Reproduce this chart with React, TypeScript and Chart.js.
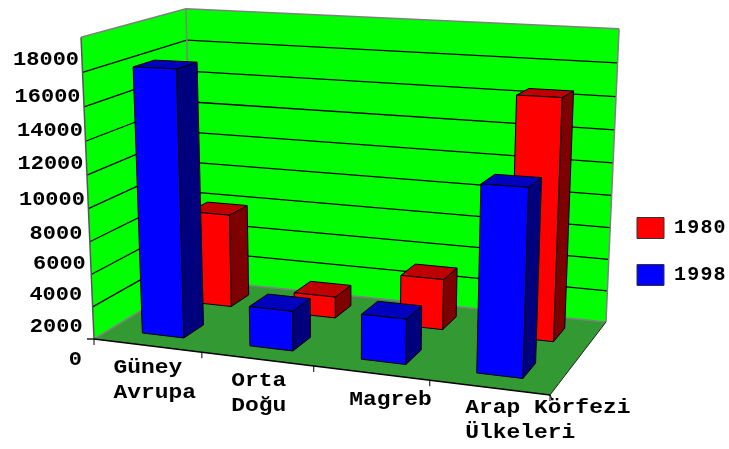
import React, { useEffect, useRef } from "react";
import { Chart, registerables } from "chart.js";

Chart.register(...registerables);

const categories = [["Güney", "Avrupa"], ["Orta", "Doğu"], ["Magreb"], ["Arap Körfezi", "Ülkeleri"]];
const seriesNames = ["1980", "1998"];
const values1980 = [5950, 1340, 3140, 14500];
const values1998 = [16100, 2400, 2670, 10680];
const yMax = 18000;
const yStep = 2000;

const FONT = 'bold 20px "Liberation Mono"';
type Pt = [number, number];

function quad(p0: Pt, p1: Pt, p2: Pt, p3: Pt) {
  const dx1 = p1[0] - p2[0], dx2 = p3[0] - p2[0], sx = p0[0] - p1[0] + p2[0] - p3[0];
  const dy1 = p1[1] - p2[1], dy2 = p3[1] - p2[1], sy = p0[1] - p1[1] + p2[1] - p3[1];
  const det = dx1 * dy2 - dx2 * dy1;
  const g = (sx * dy2 - dx2 * sy) / det;
  const h = (dx1 * sy - sx * dy1) / det;
  return {
    a: p1[0] - p0[0] + g * p1[0], b: p3[0] - p0[0] + h * p3[0], c: p0[0],
    d: p1[1] - p0[1] + g * p1[1], e: p3[1] - p0[1] + h * p3[1], f: p0[1], g, h,
  };
}

// The viewing projection of the 3D box: floor corners plus vertical terms.
const F = quad([94, 339], [550, 395], [606, 322], [193, 279.5]);
const VX = -16.9, VY = -303.5, VK = -0.0485, TWIST = 8, WARP = 0.05;

function project(uIn: number, v: number, w: number): Pt {
  const u = uIn + WARP * uIn * (1 - uIn);
  const k = F.g * u + F.h * v + 1 + VK * w;
  return [
    (F.a * u + F.b * v + F.c + VX * w) / k,
    (F.d * u + F.e * v + F.f + VY * w) / k + TWIST * u * v * w,
  ];
}

function poly(ctx: CanvasRenderingContext2D, pts: Pt[], fill: string | null, stroke: string | null, lw = 1) {
  ctx.beginPath();
  pts.forEach((p, i) => (i ? ctx.lineTo(p[0], p[1]) : ctx.moveTo(p[0], p[1])));
  ctx.closePath();
  if (fill) { ctx.fillStyle = fill; ctx.fill(); }
  if (stroke) { ctx.strokeStyle = stroke; ctx.lineWidth = lw; ctx.stroke(); }
}
function seg(ctx: CanvasRenderingContext2D, a: Pt, b: Pt, color: string, lw: number) {
  ctx.beginPath(); ctx.moveTo(a[0], a[1]); ctx.lineTo(b[0], b[1]);
  ctx.strokeStyle = color; ctx.lineWidth = lw; ctx.stroke();
}
function text(ctx: CanvasRenderingContext2D, s: string, x: number, y: number, sx: number) {
  ctx.save();
  ctx.translate(x, y);
  ctx.scale(sx, 1);
  ctx.fillText(s, 0, 0);
  ctx.restore();
}

const faceColors = [
  { front: "#ff0000", top: "#bf0000", side: "#7f0000" },
  { front: "#0000ff", top: "#0000bf", side: "#00007f" },
];
const rowDepth = [[0.65, 0.85], [0.15, 0.35]];
const yNudge: Pt[] = [[-12, 21], [-10, 20], [-9, 20], [-4, 22], [-6, 25], [-2, 25], [-2, 23], [-1, 24], [-2, 25], [-2, 23]];
const xNudge: Pt[] = [[-34, 27], [-26, 27], [-22, 32], [-24, 25]];
const LEGEND_PAD = 26;

const plot3d = {
  id: "plot3d",
  beforeDraw(chart: any) {
    chart.ctx.letterSpacing = "1.2px";
  },
  afterLayout(chart: any) {
    const l = chart.legend;
    l.left = 637 - LEGEND_PAD;
    l.top += 27;
    l.bottom += 27;
  },
  beforeDatasetsDraw(chart: any) {
    const { ctx, scales } = chart;
    const x = scales.x, y = scales.y;
    ctx.letterSpacing = "0px";
    const W = (val: number) => (y.bottom - y.getPixelForValue(val)) / (y.bottom - y.top);
    ctx.save();
    ctx.lineJoin = "round";
    // walls
    poly(ctx, [project(0, 0, 0), project(0, 0, 1), project(0, 1, 1), project(0, 1, 0)], "#00ff00", null);
    poly(ctx, [project(0, 1, 0), project(0, 1, 1), project(1, 1, 1), project(1, 1, 0)], "#00ff00", null);
    poly(ctx, [project(0, 0, 0), project(1, 0, 0), project(1, 1, 0), project(0, 1, 0)], "#339933", null);
    // gridlines
    y.ticks.forEach((t: any) => {
      const w = W(t.value);
      if (w <= 0 || w >= 1) return;
      seg(ctx, project(0, 0, w), project(0, 1, w), "#000000", 1.3);
      seg(ctx, project(0, 1, w), project(1, 1, w), "#000000", 1.3);
    });
    // wall outline
    const gray = "#808080";
    seg(ctx, project(0, 0, 0), project(0, 0, 1), "#555555", 1.5);
    seg(ctx, project(0, 0, 1), project(0, 1, 1), gray, 1.5);
    seg(ctx, project(0, 1, 1), project(1, 1, 1), gray, 1.5);
    seg(ctx, project(1, 1, 1), project(1, 1, 0), gray, 1.5);
    seg(ctx, project(0, 1, 1), project(0, 1, 0), gray, 1.5);
    seg(ctx, project(0, 0, 0), project(0, 1, 0), gray, 1.5);
    seg(ctx, project(0, 1, 0), project(1, 1, 0), gray, 1.5);
    // floor edges and ticks
    seg(ctx, project(0, 0, 0), project(1, 0, 0), "#000000", 1.3);
    seg(ctx, project(1, 0, 0), project(1, 1, 0), "#222222", 1);
    const n = categories.length;
    for (let i = 0; i <= n; i++) {
      const p = project(i / n, 0, 0);
      seg(ctx, p, [p[0], p[1] + 6], "#000000", 1);
    }
    const o = project(0, 0, 0);
    seg(ctx, o, [o[0] - 7, o[1]], "#000000", 1.3);
    const e = project(1, 0, 0);
    seg(ctx, e, [e[0] + 2, e[1] + 4], "#000000", 1);
    // bars, back row first
    [0, 1].forEach((ds) => {
      const meta = chart.getDatasetMeta(ds);
      const c = faceColors[ds];
      const [v0, v1] = rowDepth[ds];
      meta.data.forEach((el: any) => {
        const p = el.getProps(["x", "y", "base", "width"], true);
        const u0 = (p.x - p.width / 2 - x.left) / (x.right - x.left);
        const u1 = (p.x + p.width / 2 - x.left) / (x.right - x.left);
        const h = (p.base - p.y) / (y.bottom - y.top);
        poly(ctx, [project(u1, v0, 0), project(u1, v1, 0), project(u1, v1, h), project(u1, v0, h)], c.side, "#000000");
        poly(ctx, [project(u0, v0, h), project(u1, v0, h), project(u1, v1, h), project(u0, v1, h)], c.top, "#000000");
        poly(ctx, [project(u0, v0, 0), project(u1, v0, 0), project(u1, v0, h), project(u0, v0, h)], c.front, "#000000");
      });
    });
    // axis text
    ctx.font = FONT;
    ctx.fillStyle = "#000000";
    ctx.textAlign = "right";
    ctx.textBaseline = "middle";
    y.ticks.forEach((t: any, i: number) => {
      const p = project(0, 0, W(t.value));
      const nudge = yNudge[i];
      text(ctx, String(t.value), p[0] + nudge[0], p[1] + nudge[1], 1.1);
    });
    ctx.textAlign = "left";
    ctx.textBaseline = "alphabetic";
    categories.forEach((lines, i) => {
      const px = x.getPixelForValue(i);
      const p = project((px - x.left) / (x.right - x.left), 0, 0);
      lines.forEach((line, k) => text(ctx, line, p[0] + xNudge[i][0], p[1] + xNudge[i][1] + k * 25, 1.146));
    });
    ctx.restore();
    return false;
  },
};

export default function App() {
  const ref = useRef<HTMLCanvasElement>(null);
  useEffect(() => {
    document.body.style.margin = "0";
    const chart = new Chart(ref.current!, {
      type: "bar",
      data: {
        labels: categories.map((l) => l.join(" ")),
        datasets: [
          { label: seriesNames[0], data: values1980, backgroundColor: "#ff0000", borderColor: "#333333", borderWidth: 1, barPercentage: 0.39, categoryPercentage: 1 },
          { label: seriesNames[1], data: values1998, backgroundColor: "#0000ff", borderColor: "#333333", borderWidth: 1, barPercentage: 0.39, categoryPercentage: 1 },
        ],
      },
      options: {
        responsive: false,
        animation: false,
        scales: {
          x: { display: false, stacked: true },
          y: { display: false, min: 0, max: yMax, ticks: { stepSize: yStep } },
        },
        plugins: {
          tooltip: { enabled: false },
          legend: {
            position: "right",
            labels: {
              boxWidth: 27,
              boxHeight: 21,
              padding: LEGEND_PAD,
              color: "#000000",
              font: { family: '"Liberation Mono"', size: 20, weight: "bold" },
            },
          },
        },
      },
      plugins: [plot3d],
    } as any);
    return () => chart.destroy();
  }, []);
  return (
    <div style={{ width: 729, height: 449 }}>
      <canvas ref={ref} width={729} height={449} style={{ display: "block" }} />
    </div>
  );
}
